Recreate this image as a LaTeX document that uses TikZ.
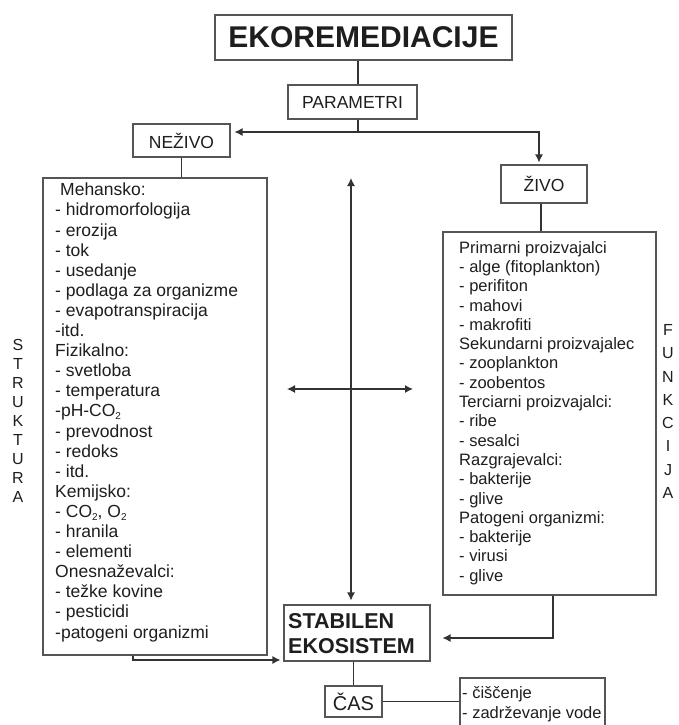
\documentclass[tikz,border=0pt]{standalone}
\usepackage{fontspec}
\setmainfont{Liberation Sans}
\usetikzlibrary{arrows.meta}
\definecolor{ln}{HTML}{333333}
\definecolor{bx}{HTML}{555555}
\definecolor{tx}{HTML}{1E1E1E}
\newcommand{\subtwo}{\raisebox{-0.3ex}{\fontsize{10}{10}\selectfont 2}}
\begin{document}
\begin{tikzpicture}[x=1pt,y=-1pt,
  box/.style={draw=bx, line width=1.1pt, inner sep=0pt, text=tx},
  conn/.style={draw=ln, line width=1.2pt},
  tip/.style={Latex[length=8pt,width=8pt]},
  arr/.style={conn, -{Latex[length=8pt,width=8pt]}},
  darr/.style={conn, {Latex[length=8pt,width=8pt]}-{Latex[length=8pt,width=8pt]}},
  txt/.style={inner sep=0pt, text=tx}]
\fill[white] (0,0) rectangle (678,725);
\useasboundingbox (0,0) rectangle (678,725);

% coordinates
\coordinate (c1) at (358,132);
\coordinate (lb) at (133,660);
\coordinate (rb) at (553,638);
\coordinate (v1) at (351,178);
\coordinate (h1) at (287,389);
\coordinate (h2) at (413,389);

% boxes
\node[box, minimum width=297pt, minimum height=45pt, font=\fontsize{30}{30}\selectfont\bfseries] (title) at (363.5,37.5) {EKOREMEDIACIJE};
\node[box, minimum width=129pt, minimum height=34pt, font=\fontsize{17.5}{18}\selectfont] (param) at (352.5,102) {PARAMETRI};
\node[box, minimum width=97pt, minimum height=33pt, font=\fontsize{17.5}{18}\selectfont] (nezivo) at (181.5,140.5) {NEŽIVO};
\node[box, minimum width=86pt, minimum height=38pt, font=\fontsize{17.5}{18}\selectfont] (zivo) at (544,184) {ŽIVO};
\node[box, minimum width=224pt, minimum height=477pt] (left) at (155,416.5) {};
\node[box, minimum width=213pt, minimum height=363pt] (right) at (549.5,413.5) {};
\node[box, minimum width=146pt, minimum height=56pt] (stab) at (357,633) {};
\node[box, minimum width=57pt, minimum height=31pt, font=\fontsize{20}{20}\selectfont] (cas) at (353.5,701.5) {ČAS};
\node[box, minimum width=145pt, minimum height=57pt] (cl) at (532.5,706.5) {};

% texts
\node[txt, anchor=north west, align=left, font=\fontsize{17.5}{20.1}\selectfont] (ltext) at (55,183) {%
\hspace*{5pt}Mehansko:\\
- hidromorfologija\\
- erozija\\
- tok\\
- usedanje\\
- podlaga za organizme\\
- evapotranspiracija\\
-itd.\\
Fizikalno:\\
- svetloba\\
- temperatura\\
-pH-CO\subtwo\\
- prevodnost\\
- redoks\\
- itd.\\
Kemijsko:\\
- CO\subtwo, O\subtwo\\
- hranila\\
- elementi\\
Onesnaževalci:\\
- težke kovine\\
- pesticidi\\
-patogeni organizmi};

\node[txt, anchor=north west, align=left, font=\fontsize{16.5}{19.3}\selectfont] (rtext) at (459,241) {%
Primarni proizvajalci\\
- alge (fitoplankton)\\
- perifiton\\
- mahovi\\
- makrofiti\\
Sekundarni proizvajalec\\
- zooplankton\\
- zoobentos\\
Terciarni proizvajalci:\\
- ribe\\
- sesalci\\
Razgrajevalci:\\
- bakterije\\
- glive\\
Patogeni organizmi:\\
- bakterije\\
- virusi\\
- glive};

\node[txt, anchor=north west, align=left, font=\fontsize{21.5}{25}\selectfont\bfseries] (stext) at (288,613) {STABILEN\\EKOSISTEM};

\node[txt, anchor=north west, align=left, font=\fontsize{16.5}{20}\selectfont] (ctext) at (462,686) {- čiščenje\\- zadrževanje vode};

\node[txt, align=center, font=\fontsize{16}{19}\selectfont] (strukt) at (18,421) {S\\T\\R\\U\\K\\T\\U\\R\\A};
\node[txt, align=center, font=\fontsize{16}{23.3}\selectfont] (funk) at (668,411.5) {F\\U\\N\\K\\C\\I\\J\\A};

% connectors
\draw[conn] (title.south -| c1) -- (param.north -| c1);
\draw[conn] (param.south -| c1) -- (c1);
\draw[arr, shorten >=4pt] (c1) -- (nezivo.east |- c1);
\draw[arr, shorten >=2pt] (c1) -| ([xshift=-5pt]zivo.north);
\draw[conn] (nezivo.south) -- (nezivo.south |- left.north);
\draw[conn] ([xshift=-3pt]zivo.south) -- ([xshift=-3pt]zivo.south |- right.north);
\draw[darr, shorten >=4pt] (v1) -- (stab.north -| v1);
\draw[darr] (h1) -- (h2);
\draw[arr, shorten >=3pt] (left.south -| lb) -- (lb) -- (stab.west |- lb);
\draw[arr, shorten >=12pt] (right.south -| rb) -- (rb) -- (stab.east |- rb);
\draw[conn] (cas.north) -- (cas.north |- stab.south);
\draw[conn] (cas.east) -- (cl.west |- cas.east);
\end{tikzpicture}
\end{document}
